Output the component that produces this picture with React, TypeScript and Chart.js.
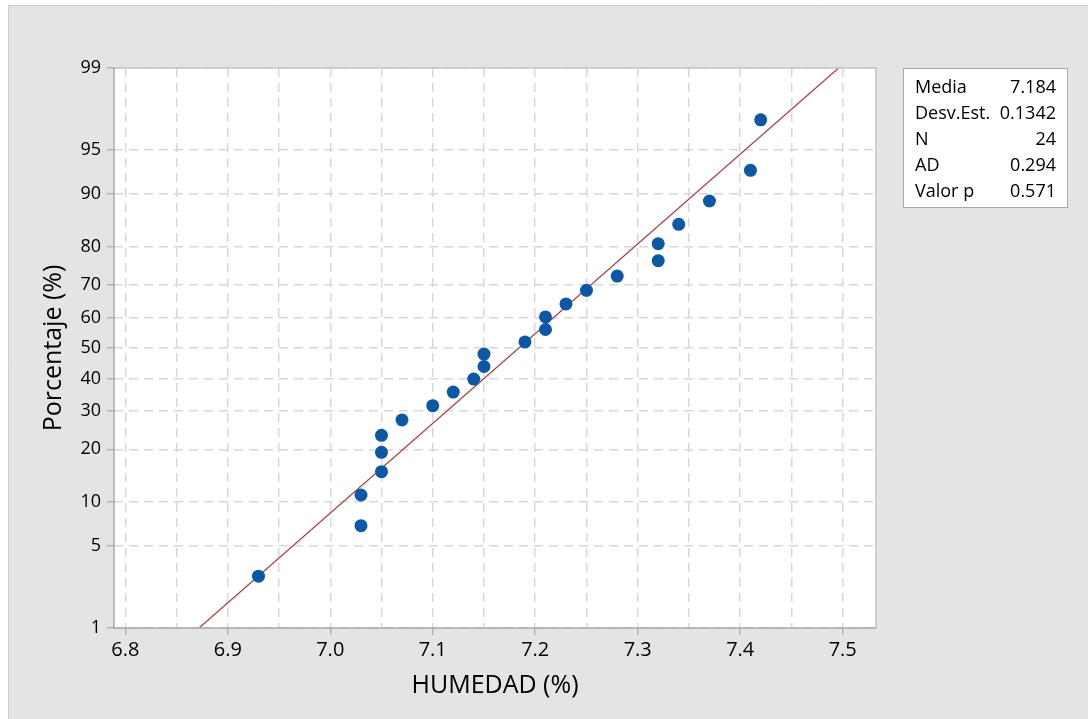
import React, { useEffect, useRef } from "react";
import { Chart, registerables } from "chart.js";

Chart.register(...registerables);

// ---- data ----
const humedad = [6.93, 7.03, 7.03, 7.05, 7.05, 7.05, 7.07, 7.10, 7.12, 7.14, 7.15, 7.15, 7.19, 7.21, 7.21, 7.23, 7.25, 7.28, 7.32, 7.32, 7.34, 7.37, 7.41, 7.42];
const porcentaje = [2.9, 7.0, 11.1, 15.2, 19.3, 23.4, 27.5, 31.6, 35.7, 39.8, 43.9, 48.0, 52.0, 56.1, 60.2, 64.3, 68.4, 72.5, 76.6, 80.7, 84.8, 88.9, 93.0, 97.1];
const fitX = [6.872, 7.496];
const fitP = [1, 99];
const xTickValues = [6.8, 6.85, 6.9, 6.95, 7.0, 7.05, 7.1, 7.15, 7.2, 7.25, 7.3, 7.35, 7.4, 7.45, 7.5];
const xTickLabels = ["6.8", "", "6.9", "", "7.0", "", "7.1", "", "7.2", "", "7.3", "", "7.4", "", "7.5"];
const yTickValues = [1, 5, 10, 20, 30, 40, 50, 60, 70, 80, 90, 95, 99];
const yTickLabels = ["1", "5", "10", "20", "30", "40", "50", "60", "70", "80", "90", "95", "99"];
const statLabels = ["Media", "Desv.Est.", "N", "AD", "Valor p"];
const statValues = ["7.184", "0.1342", "24", "0.294", "0.571"];
const xTitle = "HUMEDAD (%)";
const yTitle = "Porcentaje (%)";
const xMin = 6.789;
const xMax = 7.5325;

// inverse normal CDF (probability scale transform)
function probit(p: number): number {
  const a = [-3.969683028665376e1, 2.209460984245205e2, -2.759285104469687e2, 1.38357751867269e2, -3.066479806614716e1, 2.506628277459239];
  const b = [-5.447609879822406e1, 1.615858368580409e2, -1.556989798598866e2, 6.680131188771972e1, -1.328068155288572e1];
  const c = [-7.784894002430293e-3, -3.223964580411365e-1, -2.400758277161838, -2.549732539343734, 4.374664141464968, 2.938163982698783];
  const d = [7.784695709041462e-3, 3.224671290700398e-1, 2.445134137142996, 3.754408661907416];
  const pl = 0.02425;
  if (p < pl) {
    const q = Math.sqrt(-2 * Math.log(p));
    return (((((c[0] * q + c[1]) * q + c[2]) * q + c[3]) * q + c[4]) * q + c[5]) / ((((d[0] * q + d[1]) * q + d[2]) * q + d[3]) * q + 1);
  }
  if (p > 1 - pl) {
    const q = Math.sqrt(-2 * Math.log(1 - p));
    return -(((((c[0] * q + c[1]) * q + c[2]) * q + c[3]) * q + c[4]) * q + c[5]) / ((((d[0] * q + d[1]) * q + d[2]) * q + d[3]) * q + 1);
  }
  const q = p - 0.5;
  const r = q * q;
  return ((((((a[0] * r + a[1]) * r + a[2]) * r + a[3]) * r + a[4]) * r + a[5]) * q) / (((((b[0] * r + b[1]) * r + b[2]) * r + b[3]) * r + b[4]) * r + 1);
}

const FONT = "'Open Sans', 'Noto Sans', sans-serif";

const decorPlugin = {
  id: "decor",
  beforeDraw(chart: any) {
    const { ctx, width, height, chartArea } = chart;
    ctx.save();
    ctx.fillStyle = "#ffffff";
    ctx.fillRect(0, 0, width, height);
    ctx.fillStyle = "#e4e4e4";
    ctx.fillRect(8, 5, width - 8, height - 5);
    ctx.strokeStyle = "#cfcfcf";
    ctx.lineWidth = 1;
    ctx.beginPath();
    ctx.moveTo(8.5, height);
    ctx.lineTo(8.5, 5.5);
    ctx.lineTo(width, 5.5);
    ctx.stroke();
    ctx.fillStyle = "#ffffff";
    ctx.fillRect(chartArea.left, chartArea.top, chartArea.right - chartArea.left, chartArea.bottom - chartArea.top);
    ctx.restore();
  },
  afterDraw(chart: any) {
    const { ctx, chartArea } = chart;
    const { left, right, top, bottom } = chartArea;
    ctx.save();
    // frame
    ctx.lineWidth = 1.5;
    ctx.strokeStyle = "#c4c4c4";
    ctx.beginPath();
    ctx.moveTo(left, top);
    ctx.lineTo(right, top);
    ctx.lineTo(right, bottom);
    ctx.stroke();
    ctx.strokeStyle = "#a8a8a8";
    ctx.beginPath();
    ctx.moveTo(left, top);
    ctx.lineTo(left, bottom);
    ctx.lineTo(right, bottom);
    ctx.stroke();

    // axis titles
    ctx.fillStyle = "#000000";
    ctx.font = `25px ${FONT}`;
    ctx.textAlign = "center";
    ctx.textBaseline = "alphabetic";
    ctx.fillText(xTitle, (left + right) / 2, 693);
    ctx.save();
    ctx.translate(60.5, (top + bottom) / 2);
    ctx.rotate(-Math.PI / 2);
    ctx.fillText(yTitle, 0, 0);
    ctx.restore();

    // stats box
    const bx = 903, by = 68, bw = 164, bh = 139;
    ctx.fillStyle = "#ffffff";
    ctx.fillRect(bx, by, bw, bh);
    ctx.strokeStyle = "#a8a8a8";
    ctx.lineWidth = 1;
    ctx.strokeRect(bx + 0.5, by + 0.5, bw, bh);
    ctx.font = `18px ${FONT}`;
    ctx.fillStyle = "#000000";
    for (let i = 0; i < statLabels.length; i++) {
      const yb = 92.5 + i * 26;
      ctx.textAlign = "left";
      ctx.fillText(statLabels[i], 915, yb);
      ctx.textAlign = "right";
      ctx.fillText(statValues[i], 1056, yb);
    }
    ctx.restore();
  },
};

export default function App() {
  const ref = useRef<HTMLCanvasElement | null>(null);
  useEffect(() => {
    if (!ref.current) return;
    const points = humedad.map((x, i) => ({ x, y: probit(porcentaje[i] / 100) }));
    const fit = fitX.map((x, i) => ({ x, y: probit(fitP[i] / 100) }));
    const chart = new Chart(ref.current, {
      type: "scatter",
      data: {
        datasets: [
          {
            label: "Datos",
            data: points,
            backgroundColor: "#0b58a6",
            borderColor: "#0b58a6",
            borderWidth: 0,
            pointRadius: 6.5,
            pointHoverRadius: 6.5,
            order: 0,
          },
          {
            label: "Ajuste",
            data: fit,
            type: "line",
            showLine: true,
            borderColor: "#b03a3e",
            borderWidth: 1.2,
            pointRadius: 0,
            fill: false,
            order: 1,
          } as any,
        ],
      },
      options: {
        responsive: false,
        animation: false,
        devicePixelRatio: 1,
        layout: { padding: { left: 0, top: 68, right: 212, bottom: 0 } },
        plugins: { legend: { display: false }, tooltip: { enabled: false }, title: { display: false } },
        scales: {
          x: {
            type: "linear",
            min: xMin,
            max: xMax,
            afterFit: (s: any) => { s.height = 91; },
            afterBuildTicks: (s: any) => { s.ticks = xTickValues.map((v) => ({ value: v })); },
            ticks: {
              autoSkip: false,
              maxRotation: 0,
              padding: 3,
              color: "#000000",
              font: { family: FONT, size: 20 },
              callback: (_v: any, i: number) => xTickLabels[i],
            },
            grid: {
              color: "#d8d8d8",
              lineWidth: 1.5,
              tickLength: 7,
              tickColor: (c: any) => (xTickLabels[c.index] ? "#a8a8a8" : "rgba(0,0,0,0)"),
              tickWidth: 1.2,
              tickBorderDash: [],
            } as any,
            border: { display: false, dash: [9, 6] } as any,
          },
          y: {
            type: "linear",
            min: probit(0.01),
            max: probit(0.99),
            afterFit: (s: any) => { s.width = 114; },
            afterBuildTicks: (s: any) => { s.ticks = yTickValues.map((v) => ({ value: probit(v / 100) })); },
            ticks: {
              autoSkip: false,
              padding: 6,
              color: "#000000",
              font: { family: FONT, size: 18 },
              callback: (_v: any, i: number) => yTickLabels[i],
            },
            grid: {
              color: "#d8d8d8",
              lineWidth: 1.5,
              tickLength: 7,
              tickColor: "#a8a8a8",
              tickWidth: 1.2,
              tickBorderDash: [],
            } as any,
            border: { display: false, dash: [9, 6] } as any,
          },
        },
      },
      plugins: [decorPlugin],
    });
    return () => chart.destroy();
  }, []);
  return (
    <div style={{ position: "fixed", left: 0, top: 0, width: 1088, height: 719 }}>
      <canvas ref={ref} width={1088} height={719} style={{ width: 1088, height: 719, display: "block" }} />
    </div>
  );
}
